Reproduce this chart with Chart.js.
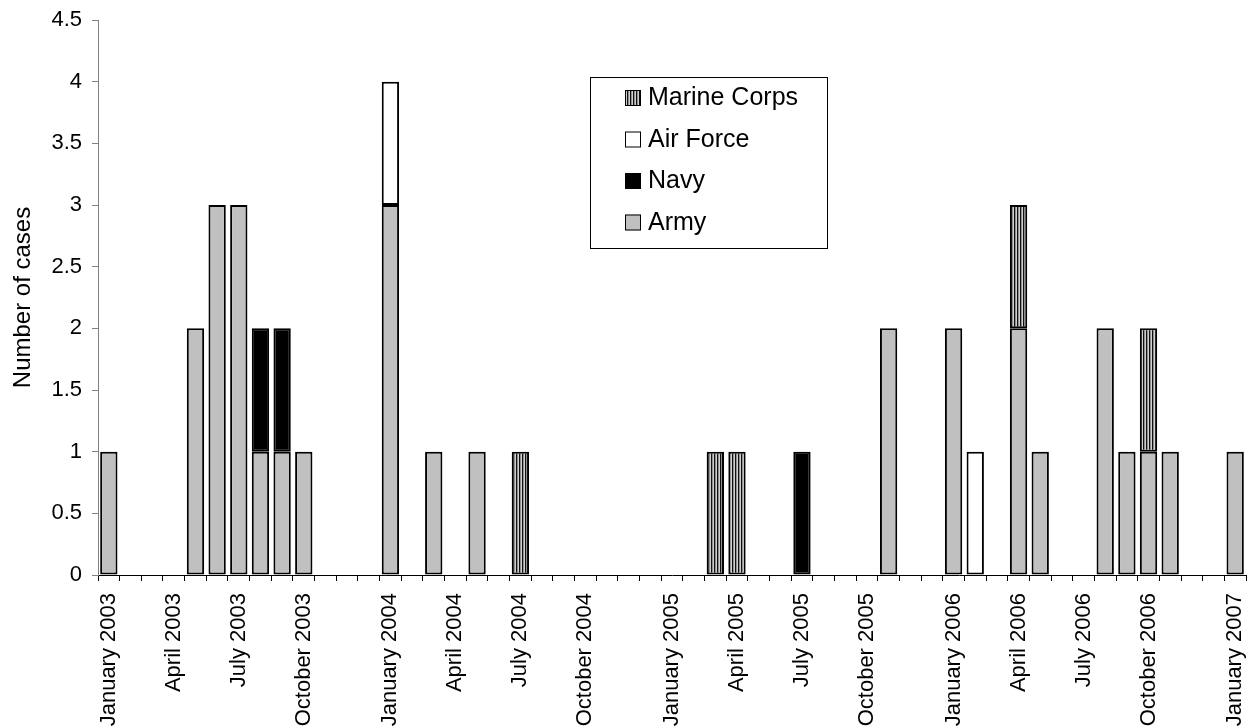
<!DOCTYPE html>
<html>
<head>
<meta charset="utf-8">
<script src="https://cdn.jsdelivr.net/npm/chart.js@4.4.1/dist/chart.umd.min.js"></script>
<style>
  html, body { margin: 0; padding: 0; background: #fff; }
  #wrap { width: 1256px; height: 727px; position: relative; }
</style>
</head>
<body>
<div id="wrap"><canvas id="chart" width="1256" height="727"></canvas></div>
<script>
// x axis slots (the sheet has one extra blank slot at each year end)
const monthLabels = [
    'January 2003', '', '', 'April 2003', '', '', 'July 2003', '', '', 'October 2003', '', '', '',
    'January 2004', '', '', 'April 2004', '', '', 'July 2004', '', '', 'October 2004', '', '', '',
    'January 2005', '', '', 'April 2005', '', '', 'July 2005', '', '', 'October 2005', '', '', '',
    'January 2006', '', '', 'April 2006', '', '', 'July 2006', '', '', 'October 2006', '', '', '',
    'January 2007'
];

// cases per slot, one row per year
const army = [
    1, 0, 0, 0, 2, 3, 3, 1, 1, 1, 0, 0, 0,
    3, 0, 1, 0, 1, 0, 0, 0, 0, 0, 0, 0, 0,
    0, 0, 0, 0, 0, 0, 0, 0, 0, 0, 2, 0, 0,
    2, 0, 0, 2, 1, 0, 0, 2, 1, 1, 1, 0, 0,
    1
];
const navy = [
    0, 0, 0, 0, 0, 0, 0, 1, 1, 0, 0, 0, 0,
    0, 0, 0, 0, 0, 0, 0, 0, 0, 0, 0, 0, 0,
    0, 0, 0, 0, 0, 0, 1, 0, 0, 0, 0, 0, 0,
    0, 0, 0, 0, 0, 0, 0, 0, 0, 0, 0, 0, 0,
    0
];
const airForce = [
    0, 0, 0, 0, 0, 0, 0, 0, 0, 0, 0, 0, 0,
    1, 0, 0, 0, 0, 0, 0, 0, 0, 0, 0, 0, 0,
    0, 0, 0, 0, 0, 0, 0, 0, 0, 0, 0, 0, 0,
    0, 1, 0, 0, 0, 0, 0, 0, 0, 0, 0, 0, 0,
    0
];
const marineCorps = [
    0, 0, 0, 0, 0, 0, 0, 0, 0, 0, 0, 0, 0,
    0, 0, 0, 0, 0, 0, 1, 0, 0, 0, 0, 0, 0,
    0, 0, 1, 1, 0, 0, 0, 0, 0, 0, 0, 0, 0,
    0, 0, 0, 1, 0, 0, 0, 0, 0, 1, 0, 0, 0,
    0
];

const FONT = 'Liberation Sans, Arial, sans-serif';

// vertical stripe fill for Marine Corps
function stripes() {
    const c = document.createElement('canvas');
    c.width = 3;
    c.height = 4;
    const g = c.getContext('2d');
    const cols = ['#101010', '#909090', '#d0d0d0'];
    cols.forEach((col, i) => {
        g.fillStyle = col;
        g.fillRect(i, 0, 1, 4);
    });
    return g.createPattern(c, 'repeat');
}

// empty slots get no bar at all
const toBars = arr => arr.map(v => (v === 0 ? null : v));

const barStyle = {
    borderColor: '#000',
    borderWidth: 2,
    borderSkipped: false,
    barPercentage: 0.8,
    categoryPercentage: 1.0
};

// legend with a frame, drawn inside the plot
const boxLegend = {
    id: 'boxLegend',
    afterDraw(chart, args, opts) {
        const ctx = chart.ctx;
        ctx.save();
        ctx.fillStyle = '#fff';
        ctx.fillRect(opts.left, opts.top, opts.width, opts.height);
        ctx.strokeStyle = '#000';
        ctx.lineWidth = 1;
        ctx.strokeRect(opts.left + 0.5, opts.top + 0.5, opts.width, opts.height);
        ctx.font = opts.fontSize + 'px ' + FONT;
        ctx.textBaseline = 'alphabetic';
        ctx.textAlign = 'left';
        const sets = chart.data.datasets.slice().reverse();
        sets.forEach((ds, i) => {
            const base = opts.firstBaseline + i * opts.rowStep;
            ctx.fillStyle = ds.backgroundColor;
            ctx.fillRect(opts.boxX, base - opts.box + 1, opts.box, opts.box);
            ctx.strokeStyle = '#000';
            ctx.lineWidth = 1;
            ctx.strokeRect(opts.boxX + 0.5, base - opts.box + 1.5, opts.box - 1, opts.box - 1);
            ctx.fillStyle = '#000';
            ctx.fillText(ds.label, opts.textX, base);
        });
        ctx.restore();
    }
};

new Chart(document.getElementById('chart'), {
    type: 'bar',
    data: {
        labels: monthLabels,
        datasets: [
            { label: 'Army', data: toBars(army), backgroundColor: '#c0c0c0', ...barStyle },
            { label: 'Navy', data: toBars(navy), backgroundColor: '#000000', ...barStyle },
            { label: 'Air Force', data: toBars(airForce), backgroundColor: '#ffffff', ...barStyle },
            { label: 'Marine Corps', data: toBars(marineCorps), backgroundColor: stripes(), ...barStyle }
        ]
    },
    options: {
        responsive: false,
        animation: false,
        layout: { padding: { top: 20, right: 10, bottom: 0, left: 0 } },
        plugins: {
            legend: { display: false },
            tooltip: { enabled: false },
            boxLegend: {
                left: 590, top: 77, width: 237, height: 171,
                boxX: 625, box: 16, textX: 648,
                firstBaseline: 105, rowStep: 41.5, fontSize: 25
            }
        },
        scales: {
            x: {
                stacked: true,
                grid: { offset: true, drawOnChartArea: false, drawTicks: true, tickLength: 6, color: '#000' },
                border: { color: '#000', width: 1 },
                ticks: {
                    autoSkip: false, minRotation: 90, maxRotation: 90, padding: 12,
                    color: '#000', font: { family: FONT, size: 22 }
                },
                afterFit(s) {
                    s.height = 152;
                    s.paddingLeft = 0;
                    s.paddingRight = 0;
                }
            },
            y: {
                stacked: true,
                min: 0,
                max: 4.5,
                grid: { drawOnChartArea: false, drawTicks: true, tickLength: 6, color: '#808080' },
                border: { color: '#808080', width: 1 },
                ticks: {
                    stepSize: 0.5, padding: 10, color: '#000', font: { family: FONT, size: 22 },
                    callback: v => String(v)
                },
                title: {
                    display: true, text: 'Number of cases', color: '#000',
                    font: { family: FONT, size: 24 }, padding: { top: 9, bottom: 0 }
                },
                afterFit(s) {
                    s.width = 98;
                    s.paddingTop = 0;
                    s.paddingBottom = 0;
                }
            }
        }
    },
    plugins: [boxLegend]
});
</script>
</body>
</html>
